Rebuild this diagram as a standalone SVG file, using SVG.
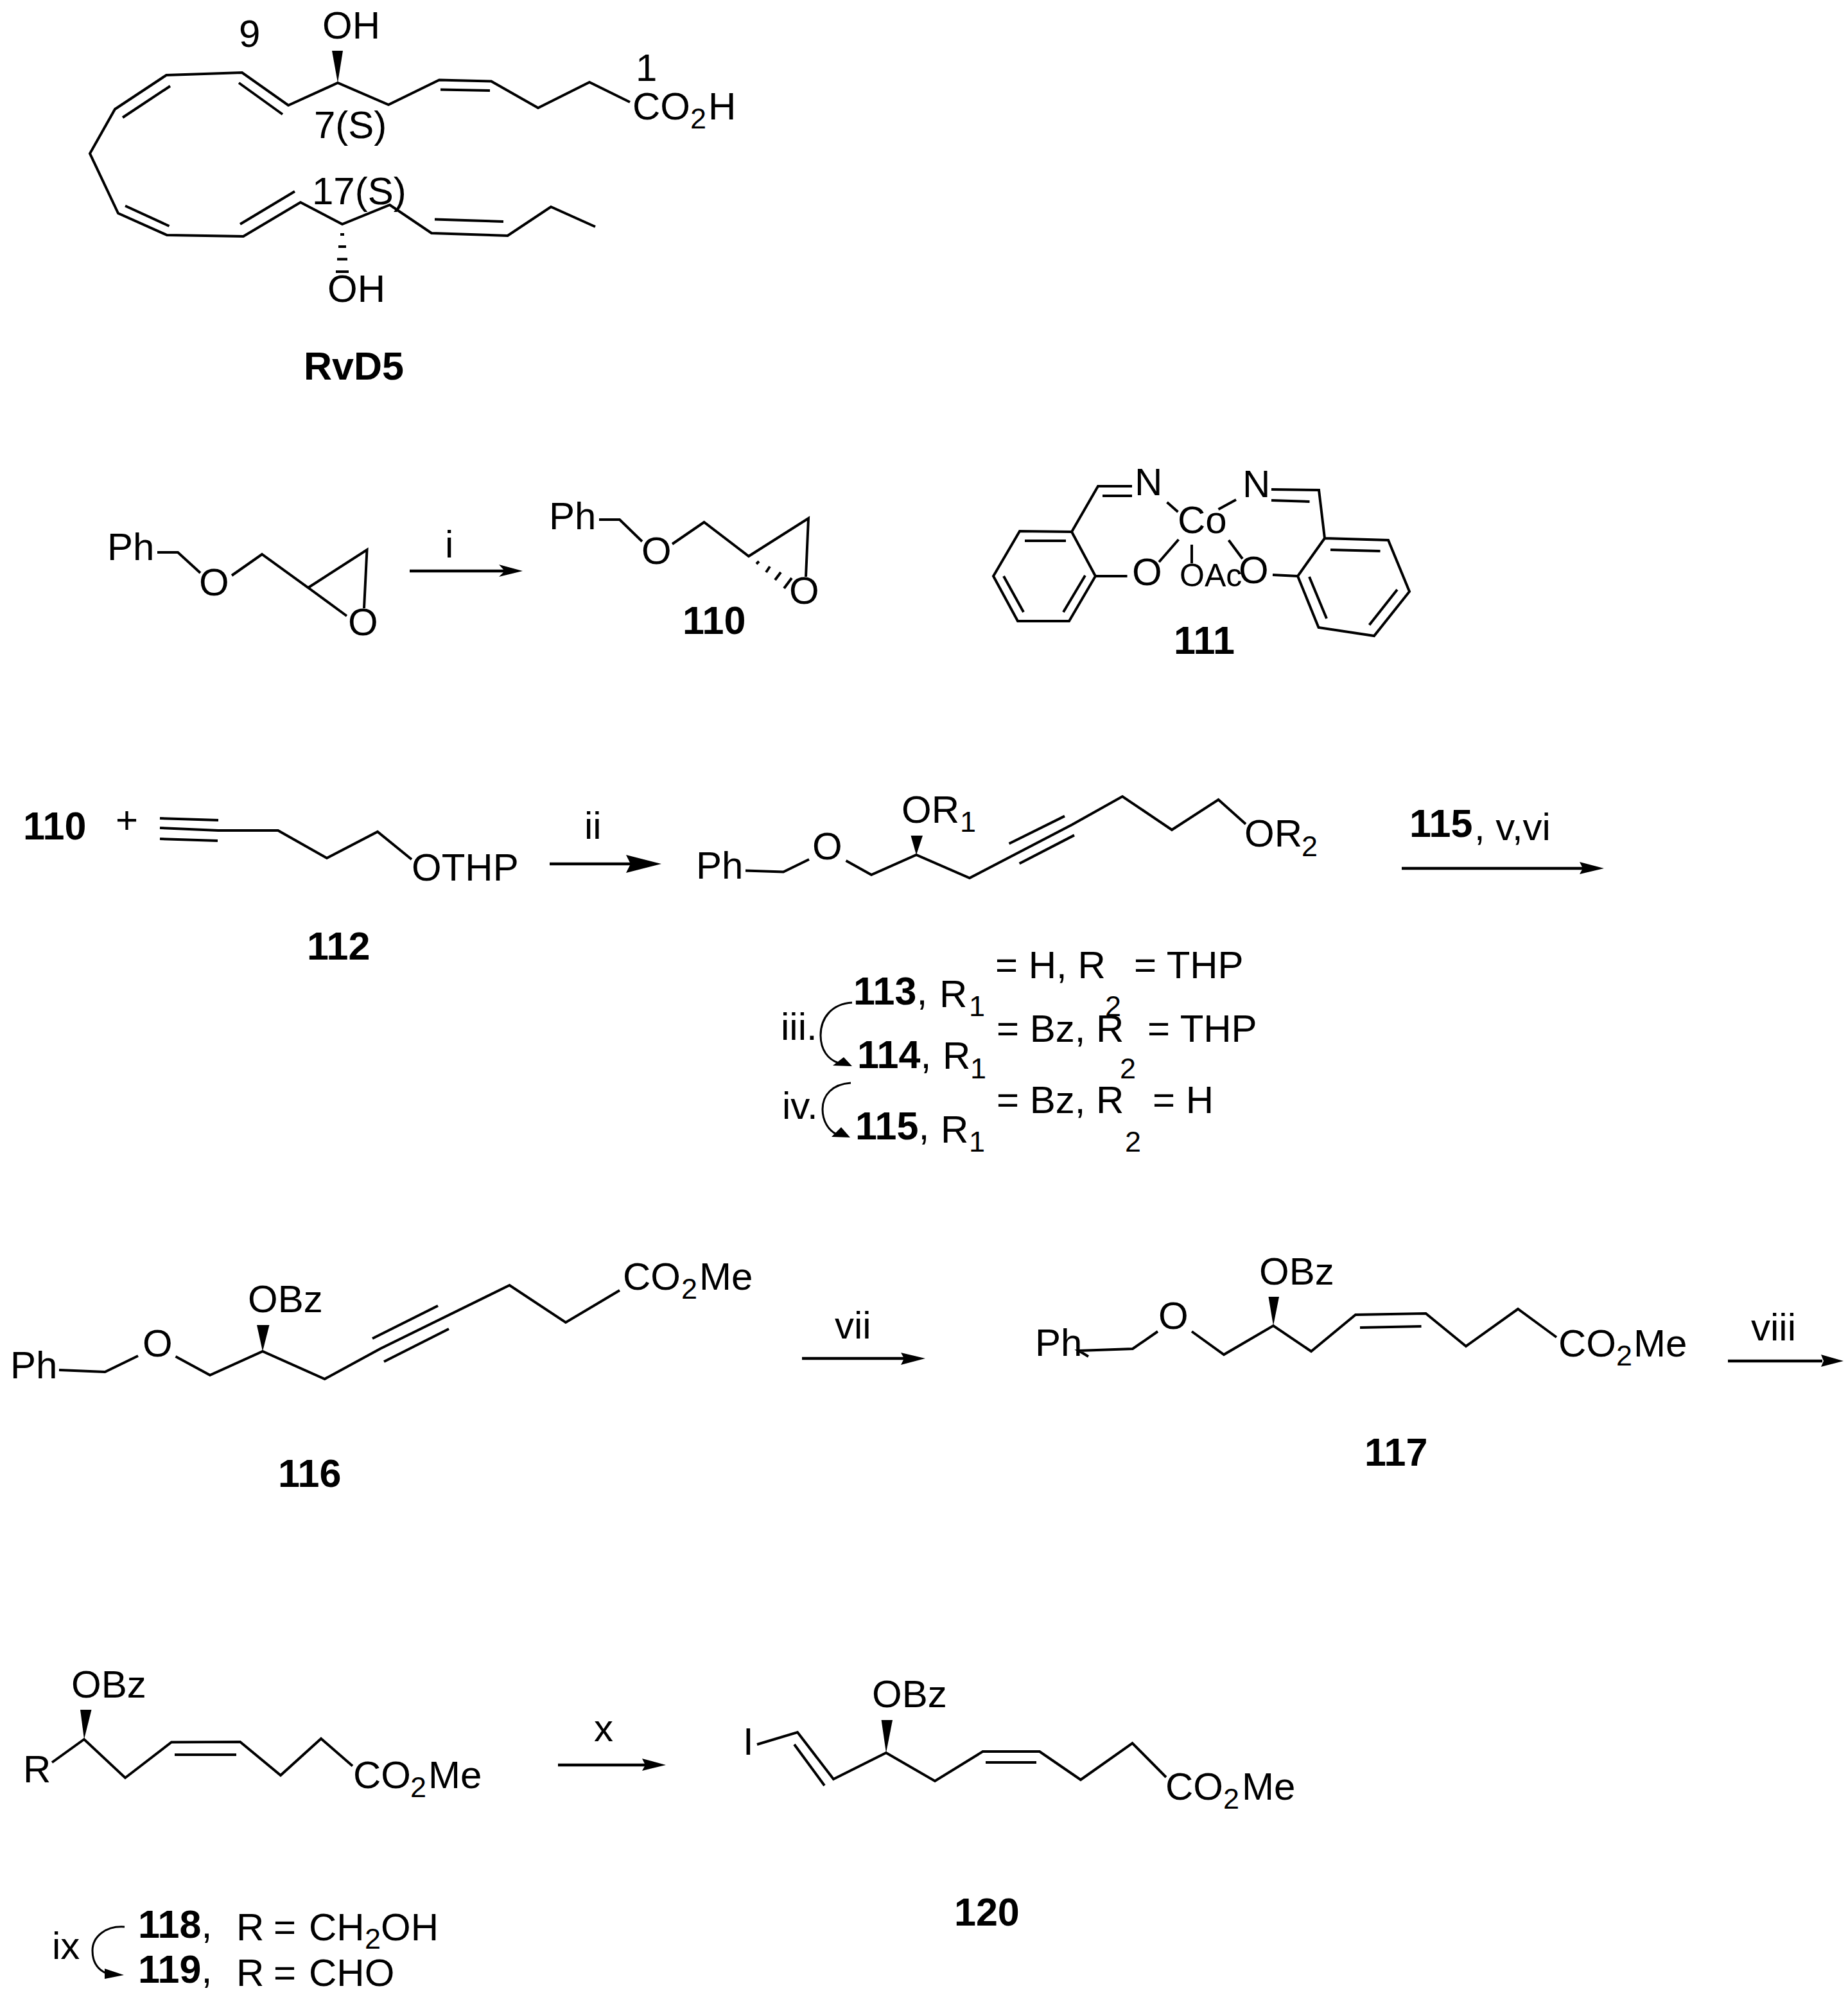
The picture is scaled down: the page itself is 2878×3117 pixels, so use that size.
<svg xmlns="http://www.w3.org/2000/svg" width="2878" height="3117" viewBox="0 0 2878 3117">
<style>
text{font-family:"Liberation Sans",Arial,sans-serif;font-size:60px;fill:#000}
.bd{font-weight:bold;font-size:61px}
.n{font-weight:normal}
.s{font-size:45px}
.sm{font-size:50px}
.b{fill:none;stroke:#000;stroke-width:4}
.k{fill:#000;stroke:none}
.a{fill:none;stroke:#000;stroke-width:4.5}
.c{fill:none;stroke:#000;stroke-width:3}
</style>
<rect width="2878" height="3117" fill="#fff"/>
<g id="RvD5">
<path class="b" d="M981,159L918,128L838,168L765,126.5L684,124.5L605,163L526,129L449,164L377,113L259,117L179,170L140,239L184,332L260,366L379,368L468,315L533,349L607,319L672,363L790.5,367L858,322L927,353"/>
<path class="b" d="M191,183L265,134M372,129L440,178M686,139.5L763,141M195,320.5L263.5,352M374,349L459,298M677,341.5L784,345"/>
<polygon class="k" points="526,129 517,79 534,79"/>
<path class="b" d="M530,365h6M527,384h12M525,403.5h16M523,423h20"/>
<text x="502" y="60">OH</text>
<text x="372" y="73">9</text>
<text x="990" y="126">1</text>
<text x="985" y="186">CO<tspan class="s" x="1075" y="200">2</tspan><tspan x="1103" y="186">H</tspan></text>
<text x="489" y="215">7(S)</text>
<text x="486" y="318">17(S)</text>
<text x="510" y="470">OH</text>
<text class="bd" x="473" y="591">RvD5</text>
</g>
<g id="epoxide">
<path class="b" d="M245,860H277L312,892M361,896L408,863L480,915L571.5,856L567,947M480,915L540,959"/>
<text x="167" y="872">Ph</text>
<text x="310" y="927">O</text>
<text x="542" y="989">O</text>
</g>
<g id="c110">
<path class="b" d="M933,809H965L1000,843M1047,847L1096.5,813L1166,866L1259,807L1255,898"/>
<path class="b" d="M1178,878L1182,874M1193,891L1199,882M1207,903L1216,891M1221,916L1233,900"/>
<text x="855" y="824">Ph</text>
<text x="999" y="878">O</text>
<text x="1229" y="940">O</text>
<text class="bd" x="1063" y="987">110</text>
</g>
<g id="c111">
<path class="b" d="M1669,828L1588,827L1547,897L1585,967L1665,967L1706,897L1669,828L1710,757H1763M1717,772H1763"/>
<path class="b" d="M1596,842H1660M1563,897L1594,953M1656,953L1690,896"/>
<path class="b" d="M1817.5,782L1834.5,797M1897.5,793L1925,778M1707,897H1755.5M1835.5,840L1805,875M1856,848V877M1913.5,841L1935,870"/>
<path class="b" d="M1980,762L2054,763L2063,838L2162,841L2195,921L2140,990L2053.5,977L2021,897L2063,838M2021,897L1982,895M1980,779L2039.5,781"/>
<path class="b" d="M2072,856L2149.5,858M2039,898L2066,963M2132.5,973L2176,918"/>
<text x="1767" y="771">N</text>
<text x="1935" y="774">N</text>
<text x="1834" y="830">Co</text>
<text x="1763" y="911">O</text>
<text class="sm" x="1837" y="913">OAc</text>
<text x="1929" y="908">O</text>
<text class="bd" x="1828" y="1018">111</text>
</g>
<g id="c110plus112">
<text class="bd" x="36" y="1307">110</text>
<text x="180" y="1297">+</text>
<path class="b" d="M249,1274L340,1277M249,1289L340,1293H433L509,1336L588,1295L641,1338M249,1306L339,1309"/>
<text x="641" y="1371">OTHP</text>
<text class="bd" x="478" y="1494">112</text>
</g>
<g id="c113">
<path class="b" d="M1161,1355.5L1220,1357.5L1260,1338M1317.5,1340L1357,1362L1427,1331L1510,1367L1669.5,1284L1748,1240L1825,1292L1897.5,1245L1940,1283"/>
<path class="b" d="M1571.5,1313.5L1658,1270.6M1587.6,1344.5L1673,1300.4"/>
<polygon class="k" points="1427,1331 1418.5,1301 1437,1301"/>
<text x="1084" y="1368">Ph</text>
<text x="1265" y="1338">O</text>
<text x="1404" y="1281">OR<tspan class="s" x="1495" y="1295">1</tspan></text>
<text x="1938" y="1318">OR<tspan class="s" x="2027" y="1333">2</tspan></text>
</g>
<g id="labels113to115">
<text x="1550" y="1523">= H, R</text><text x="1766" y="1523">= THP</text>
<text class="bd" x="1329" y="1564">113<tspan class="n">,</tspan></text>
<text x="1463" y="1568">R<tspan class="s" x="1509" y="1582">1</tspan></text>
<text class="s" x="1721" y="1582">2</text>
<text x="1216" y="1619">iii.</text>
<text class="bd" x="1335" y="1663">114<tspan class="n">,</tspan></text>
<text x="1468" y="1664">R<tspan class="s" x="1511" y="1679">1</tspan></text>
<text x="1552" y="1622">= Bz, R</text><text x="1787" y="1622">= THP</text>
<text class="s" x="1744" y="1679">2</text>
<text x="1218" y="1742">iv.</text>
<text x="1552" y="1733">= Bz, R</text><text x="1795" y="1733">= H</text>
<text class="bd" x="1332" y="1774">115<tspan class="n">,</tspan></text>
<text x="1465" y="1779">R<tspan class="s" x="1509" y="1793">1</tspan></text>
<text class="s" x="1752" y="1793">2</text>
</g>
<g id="c116">
<path class="b" d="M92,2133L163.5,2136L215,2111M273.5,2112L327,2141L409,2104L505.6,2147L592,2100L793.5,2001L881,2059L965,2009"/>
<path class="b" d="M580,2084L682,2033M598,2120L699,2069"/>
<polygon class="k" points="409,2104 400,2063 419.5,2063"/>
<text x="16" y="2146">Ph</text>
<text x="222" y="2112">O</text>
<text x="386" y="2043">OBz</text>
<text x="970" y="2008">CO<tspan class="s" x="1061" y="2022">2</tspan><tspan x="1089" y="2008">Me</tspan></text>
<text class="bd" x="433" y="2315">116</text>
</g>
<g id="c117">
<path class="b" d="M1695,2112L1680,2103L1764,2100L1803,2073M1856,2073L1906,2109L1983,2064L2042,2104L2111,2047L2220.5,2045L2283,2096L2364,2038L2424,2082"/>
<path class="b" d="M2118,2067L2213.5,2065"/>
<polygon class="k" points="1983,2064 1975.5,2019 1992,2019"/>
<text x="1612" y="2111">Ph</text>
<text x="1804" y="2069">O</text>
<text x="1961" y="2000">OBz</text>
<text x="2427" y="2112">CO<tspan class="s" x="2517" y="2126">2</tspan><tspan x="2544" y="2112">Me</tspan></text>
<text class="bd" x="2125" y="2282">117</text>
</g>
<g id="c118">
<path class="b" d="M81,2744L131,2708L195,2768L267,2712.5L374,2712L437,2764L500,2707L549,2749.5"/>
<path class="b" d="M272,2732H368"/>
<polygon class="k" points="131,2708 125,2662 142.5,2662"/>
<text x="111" y="2643">OBz</text>
<text x="36" y="2774.5">R</text>
<text x="550" y="2784">CO<tspan class="s" x="639" y="2798">2</tspan><tspan x="667" y="2784">Me</tspan></text>
<text x="81" y="3050">ix</text>
<text class="bd" x="215" y="3017">118<tspan class="n">,</tspan></text>
<text x="368" y="3021">R</text><text x="426" y="3021">=</text>
<text x="481" y="3021">CH<tspan class="s" x="568" y="3034">2</tspan><tspan x="593" y="3021">OH</tspan></text>
<text class="bd" x="215" y="3087">119<tspan class="n">,</tspan></text>
<text x="368" y="3092">R</text><text x="426" y="3092">=</text>
<text x="481" y="3092">CHO</text>
</g>
<g id="c120">
<path class="b" d="M1179,2716L1242,2697L1298,2770L1380,2729L1456,2773L1530.5,2727L1619,2727L1683,2771L1763.5,2714L1816,2767"/>
<path class="b" d="M1237,2716L1284,2780M1535,2744L1614,2744"/>
<polygon class="k" points="1380,2729 1372.6,2678 1390,2678"/>
<text x="1157" y="2732">I</text>
<text x="1358" y="2658">OBz</text>
<text x="1815" y="2802">CO<tspan class="s" x="1905" y="2816">2</tspan><tspan x="1934" y="2802">Me</tspan></text>
<text class="bd" x="1486" y="2998">120</text>
</g>
<g id="connectors">
<path class="a" d="M638,889H786"/><polygon class="k" points="814,889 777,879 786,889 777,898"/>
<text x="693" y="868">i</text>
<path class="a" d="M856,1345H982"/><polygon class="k" points="1030,1345 975,1331 982,1345 975,1359"/>
<text x="910" y="1306">ii</text>
<path class="a" d="M2183,1352H2465"/><polygon class="k" points="2498,1352 2460,1342 2465,1352 2460,1361"/>
<text class="bd" x="2195" y="1303">115</text>
<text x="2296" y="1308">, v,vi</text>
<path class="a" d="M1249,2115H1408"/><polygon class="k" points="1441,2115 1403,2106 1408,2115 1403,2125"/>
<text x="1300" y="2084">vii</text>
<path class="a" d="M2691,2119H2838"/><polygon class="k" points="2871,2119 2836,2109 2840,2119 2836,2128"/>
<text x="2727" y="2087">viii</text>
<path class="a" d="M869,2748H1005"/><polygon class="k" points="1037,2748 1000,2738 1005,2748 1000,2757"/>
<text x="925" y="2711">x</text>
<path class="c" d="M1327,1561C1295,1563 1278,1585 1278,1612C1278,1635 1290,1650 1306,1655"/><polygon class="k" points="1327,1660 1297,1659 1314,1646"/>
<path class="c" d="M1325,1686C1296,1688 1281,1705 1281,1727C1281,1745 1290,1760 1303,1766"/><polygon class="k" points="1324,1771 1295,1770 1310,1755"/>
<path class="c" d="M194,3000C165,2998 144,3015 144,3037C144,3055 152,3068 170,3074"/><polygon class="k" points="193,3075 163,3065 163,3081"/>
</g>
</svg>
